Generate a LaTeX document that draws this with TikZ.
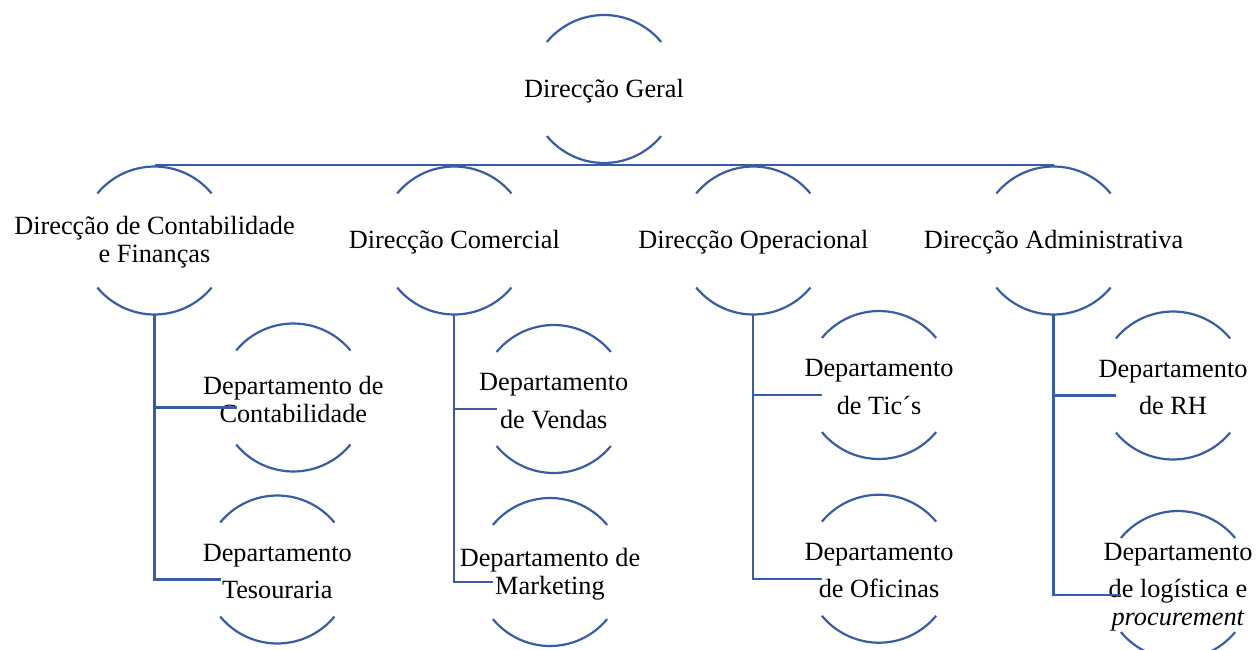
\documentclass[tikz,border=0pt]{standalone}
\usepackage{fontspec}
\setmainfont{Liberation Serif}
\definecolor{orgblue}{RGB}{56,93,166}
\tikzset{
  conn/.style={draw=orgblue, line width=2.2pt},
  arcline/.style={draw=orgblue, line width=2.2pt},
  orgtext/.style={align=center, inner sep=0pt, yshift=-2pt, font=\fontsize{26.3}{28.3}\selectfont, text=black},
}
\newcommand\ringarcs[1]{%
  \draw[arcline] ([shift={(140.5:74pt)}]#1.center) arc[start angle=140.5, end angle=39.5, radius=74pt];
  \draw[arcline] ([shift={(219.5:74pt)}]#1.center) arc[start angle=219.5, end angle=320.5, radius=74pt];
}
\begin{document}
\begin{tikzpicture}[x=1pt,y=1pt]
\useasboundingbox (0,0) rectangle (1257,-649);
% top
\coordinate (g0) at (604,-89);
\node[orgtext] (g0t) at (g0) {Direcção Geral};
% level 2
\coordinate (c1) at (154.5,-240.5);
\coordinate (c2) at (454.3,-240.5);
\coordinate (c3) at (753.3,-240.5);
\coordinate (c4) at (1053.5,-240.5);
\node[orgtext] (c1t) at (c1) {Direcção de Contabilidade\\e Finanças};
\node[orgtext] (c2t) at (c2) {Direcção Comercial};
\node[orgtext] (c3t) at (c3) {Direcção Operacional};
\node[orgtext] (c4t) at (c4) {Direcção Administrativa};
% level 3
\coordinate (d11) at (293.3,-397.5);
\coordinate (d12) at (277.3,-569.5);
\coordinate (d21) at (553.7,-399);
\coordinate (d22) at (550,-572);
\coordinate (d31) at (879,-385);
\coordinate (d32) at (879,-568.7);
\coordinate (d41) at (1173,-385.5);
\coordinate (d42) at (1178,-585);
\node[orgtext] (d11t) at (d11) {Departamento de\\Contabilidade};
\node[orgtext] (d12t) at (d12) {Departamento\\[9pt]Tesouraria};
\node[orgtext] (d21t) at (d21) {Departamento\\[9pt]de Vendas};
\node[orgtext] (d22t) at (d22) {Departamento de\\Marketing};
\node[orgtext] (d31t) at (d31) {Departamento\\[9pt]de Tic´s};
\node[orgtext] (d32t) at (d32) {Departamento\\[9pt]de Oficinas};
\node[orgtext] (d41t) at (d41) {Departamento\\[9pt]de RH};
\node[orgtext] (d42t) at (d42) {Departamento\\[9pt]de logística e\\\textit{procurement}};
% arcs
\foreach \n in {g0,c1,c2,c3,c4,d11,d12,d21,d22,d31,d32,d41,d42}{\ringarcs{\n}}
% bus
\draw[conn] ([yshift=-74pt]g0) -- ([yshift=-76pt]g0);
\draw[conn] ([yshift=75.5pt]c1) -- ([yshift=75.5pt]c4);
% branch end points
\foreach \n in {d11,d12,d21,d22,d31,d32,d41,d42}{
  \coordinate (\n-in) at ([shift={(-56.7pt,-10pt)}]\n);
}
% verticals and branches
\foreach \p/\a/\b in {c1/d11/d12, c2/d21/d22, c3/d31/d32, c4/d41/d42}{
  \draw[conn] ([yshift=-74pt]\p) |- (\b-in);
  \draw[conn] (\p |- \a-in) -- (\a-in);
}
\end{tikzpicture}
\end{document}
